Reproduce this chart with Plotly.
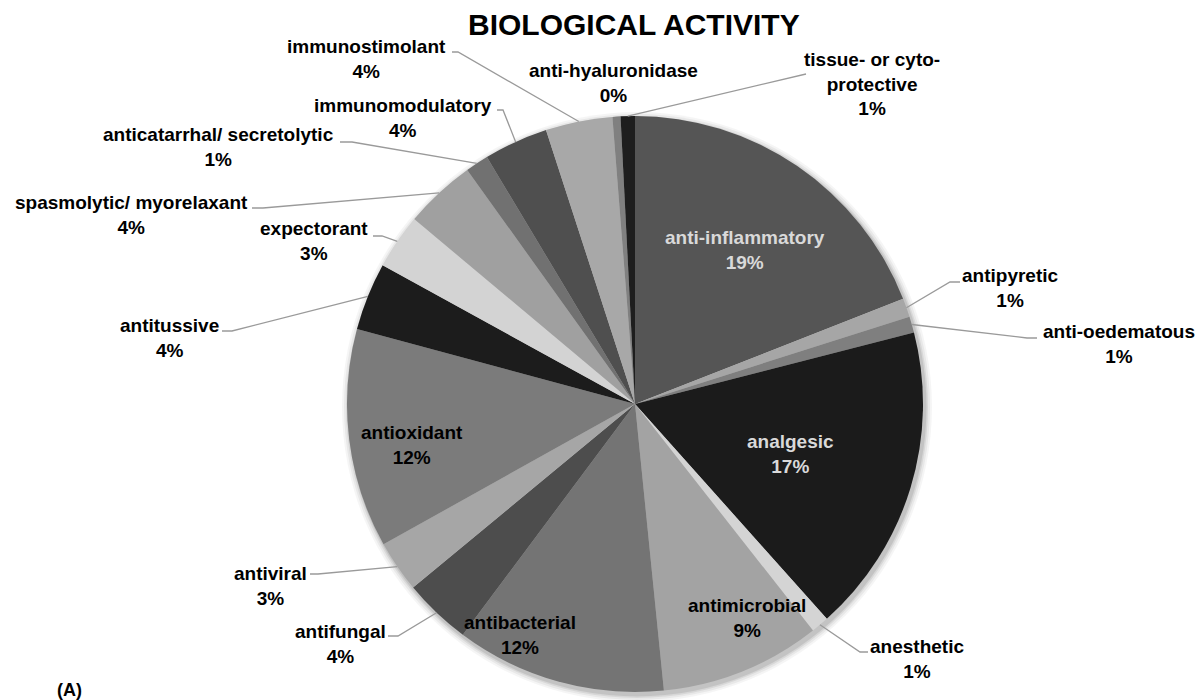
import math
import plotly.graph_objects as go

# ---------------- data ----------------
categories = [
    "anti-inflammatory", "antipyretic", "anti-oedematous", "analgesic", "anesthetic",
    "antimicrobial", "antibacterial", "antifungal", "antiviral", "antioxidant",
    "antitussive", "expectorant", "spasmolytic/ myorelaxant", "anticatarrhal/ secretolytic",
    "immunomodulatory", "immunostimolant", "anti-hyaluronidase", "tissue- or cyto-protective",
]
shares = [19.05, 1.05, 0.9, 17.4, 1.0, 9.0, 11.8, 3.8, 2.9, 12.3,
          3.8, 3.1, 4.0, 1.3, 3.6, 3.75, 0.45, 0.8]

# ---------------- styles ----------------
slice_colors = ["#555555", "#a6a6a6", "#7f7f7f", "#1b1b1b", "#d4d4d4",
                "#a3a3a3", "#747474", "#4d4d4d", "#a6a6a6", "#7b7b7b",
                "#1c1c1c", "#d3d3d3", "#a0a0a0", "#717171",
                "#4f4f4f", "#a8a8a8", "#808080", "#1e1e1e"]

W, H = 1203, 700
CX, CY, R = 635, 404, 288          # pie centre / radius in pixels
FONT = "Liberation Sans, Arial, sans-serif"

# label block centres (pixels) and leader start points (pixels) - layout only
label_pos = [(745, 250), (1011, 288), (1119, 344), (790, 454), (917, 659),
             (747, 618), (520, 635), (340, 644), (270, 586), (412, 445),
             (169, 338), (314, 241), (131, 215), (218, 147),
             (403, 118), (366, 59), (613, 83), (872, 84)]
label_color = ["#d9d9d9", "#000", "#000", "#d9d9d9", "#000",
               "#000", "#000", "#000", "#000", "#000",
               "#000", "#000", "#000", "#000",
               "#000", "#000", "#000", "#000"]
leader_start = [None, (960, 282), (1037, 338), None, (868, 652),
                None, None, (388, 636), (310, 574), None,
                (222, 331), (373, 236), (252, 208), (340, 142),
                (497, 110), (452, 52), None, (806, 74)]
leader_dx = [0, -10, -10, 0, -8, 0, 0, 10, 8, 0, 10, 9, 11, 12, 6, 6, 0, 0]


def px(x):
    return x / W


def py(y):
    return 1 - y / H


fig = go.Figure()

fig.add_trace(go.Pie(
    labels=categories,
    values=shares,
    sort=False,
    direction="clockwise",
    rotation=0,
    marker=dict(colors=slice_colors, line=dict(width=0)),
    textinfo="none",
    hoverinfo="label+percent",
    showlegend=False,
    domain=dict(x=[px(CX - R), px(CX + R)], y=[py(CY + R), py(CY - R)]),
))

total = sum(shares)
cum = 0.0
shapes = []
annotations = []

# soft shadow around pie
for grow, op in [(7, 0.04), (5, 0.05), (3, 0.07), (1.5, 0.09)]:
    rr = R + grow
    shapes.append(dict(type="circle", xref="paper", yref="paper", layer="below",
                       x0=px(CX + 2 - rr), x1=px(CX + 2 + rr),
                       y0=py(CY + 3 + rr), y1=py(CY + 3 - rr),
                       fillcolor=f"rgba(0,0,0,{op})", line=dict(width=0)))

for i, (name, v) in enumerate(zip(categories, shares)):
    mid = (cum + v / 2) / total * 2 * math.pi
    cum += v
    ex = CX + R * math.sin(mid)
    ey = CY - R * math.cos(mid)
    pct = f"{round(v / total * 100)}%"
    shown = name.replace("cyto-", "cyto-<br>")
    lx, ly = label_pos[i]
    annotations.append(dict(
        x=px(lx), y=py(ly), xref="paper", yref="paper", showarrow=False,
        text=f"<b>{shown}</b><br><b>{pct}</b>", align="center",
        xanchor="center", yanchor="middle",
        font=dict(family=FONT, size=19, color=label_color[i]),
    ))
    if leader_start[i] is not None:
        sx, sy = leader_start[i]
        bx = sx + leader_dx[i]
        path = f"M {px(sx)},{py(sy)} L {px(bx)},{py(sy)} L {px(ex)},{py(ey)}"
        shapes.append(dict(type="path", xref="paper", yref="paper", path=path,
                           line=dict(color="#9a9a9a", width=1.3), layer="above"))

annotations.append(dict(
    x=px(634), y=py(25), xref="paper", yref="paper", showarrow=False,
    text="<b>BIOLOGICAL ACTIVITY</b>", xanchor="center", yanchor="middle",
    font=dict(family=FONT, size=30, color="#000"),
))
annotations.append(dict(
    x=px(69), y=py(690), xref="paper", yref="paper", showarrow=False,
    text="<b>(A)</b>", xanchor="center", yanchor="middle",
    font=dict(family=FONT, size=18, color="#000"),
))

fig.update_layout(
    width=W, height=H,
    margin=dict(l=0, r=0, t=0, b=0),
    paper_bgcolor="white", plot_bgcolor="white",
    shapes=shapes, annotations=annotations,
)

fig.write_html("out.html", config={"displayModeBar": False},
               post_script="document.body.style.margin='0';")
